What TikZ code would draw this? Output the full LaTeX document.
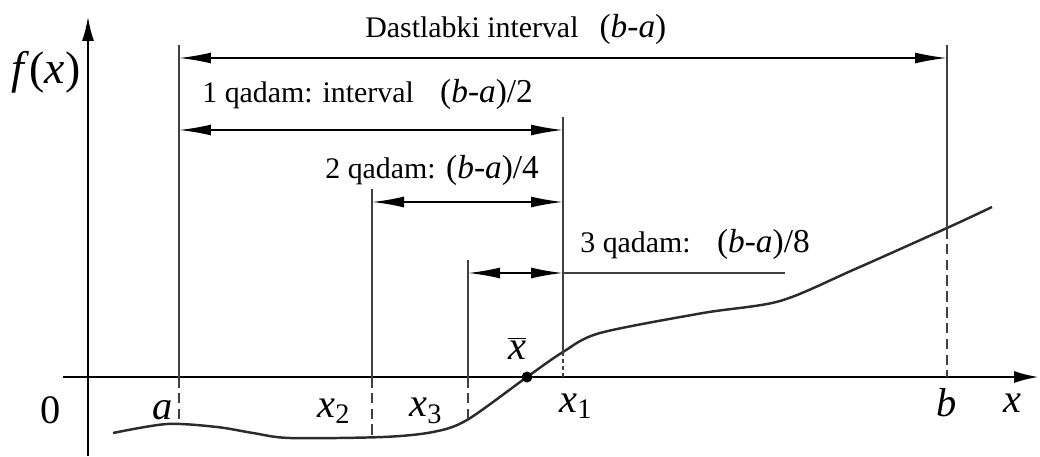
\documentclass[tikz,border=0pt]{standalone}
\usepackage{fontspec}
\setmainfont{LiberationSerif}[Extension=.ttf,UprightFont=*-Regular,ItalicFont=*-Italic,BoldFont=*-Bold]
\usetikzlibrary{arrows.meta,positioning,calc}
\newcommand{\bminusa}[1]{{\fontsize{19}{22}\selectfont(\textit{b}-\textit{a})#1}}
\newcommand{\lowix}[1]{\textsubscript{\upshape #1}}

\begin{document}
\begin{tikzpicture}[x=0.02cm,y=-0.02cm,>={Latex[length=6.4mm,width=2.2mm]}]
    \tikzset{
      axis/.style={line width=1.5pt,-{Latex[length=5mm,width=2.4mm]}},
      guide/.style={line width=1pt,draw=black!75},
      hidden/.style={guide,dash pattern=on 6pt off 3pt},
      span/.style={line width=1.1pt,<->},
      curve/.style={line width=1.4pt,draw=black!90!olive},
      lbl/.style={inner sep=0pt,anchor=base west,font=\fontsize{17}{20}\selectfont},
      var/.style={inner sep=0pt,font=\fontsize{23}{25}\selectfont\itshape},
      dot/.style={circle,fill,inner sep=0pt,minimum size=2.2mm}
    }
    \useasboundingbox (0,0) rectangle (1040,456);
    % axes
    \coordinate (xs) at (63,377);
    \coordinate (xe) at (1039,377);
    \coordinate (ys) at (88,456);
    \coordinate (ye) at (88,16);
    \draw[axis] (xs) -- (xe);
    \draw[axis] (ys) -- (ye);
    % the function
    \draw[curve] plot[smooth] coordinates {(113,433) (167,424) (217,427) (253,433)
      (290,438) (383,437) (433,432) (467,420) (527,377) (563,352) (600,333)
      (703,313) (780,301) (853,270) (947,228) (992,207)};
    % guide lines
    \coordinate (aT) at (179,45);   \coordinate (aD) at (179,420);
    \coordinate (bT) at (947,45);   \coordinate (bC) at (947,228);
    \coordinate (x1T) at (563,117); \coordinate (x1C) at (563,352);
    \coordinate (x2T) at (372,189); \coordinate (x2D) at (372,437);
    \coordinate (x3T) at (468,260); \coordinate (x3D) at (468,420);
    \draw[guide] (aT) -- (aT |- xs);
    \draw[hidden] (aT |- xs) -- (aD);
    \draw[guide] (bT) -- (bC);
    \draw[hidden] (bC) -- (bT |- xs);
    \draw[guide] (x1T) -- (x1C);
    \draw[hidden,dash pattern=on 2pt off 2pt] (x1C) -- (x1T |- xs);
    \draw[guide] (x2T) -- (x2T |- xs);
    \draw[hidden] (x2T |- xs) -- (x2D);
    \draw[guide] (x3T) -- (x3T |- xs);
    \draw[hidden] (x3T |- xs) -- (x3D);
    % interval arrows
    \coordinate (lv0) at (0,58);
    \coordinate (lv1) at (0,130);
    \coordinate (lv2) at (0,202);
    \coordinate (lv3) at (0,273);
    \coordinate (lv3e) at (785,273);
    \draw[span] (aT |- lv0) -- (bT |- lv0);
    \draw[span] (aT |- lv1) -- (x1T |- lv1);
    \draw[span] (x2T |- lv2) -- (x1T |- lv2);
    \draw[span] (x3T |- lv3) -- (x1T |- lv3);
    \draw[guide] (x1T |- lv3) -- (lv3e);
    \node[lbl] (title) at (365,38) {Dastlabki interval\hspace{12pt}\bminusa{}};
    \node[lbl] (step1) at (202,102) {1 qadam: interval\hspace{15pt}\bminusa{/2}};
    \node[lbl] (step2) at (325,178) {2 qadam:\hspace{6pt}\bminusa{/4}};
    \node[lbl] (step3) at (580,252) {3 qadam:\hspace{15pt}\bminusa{/8}};
    % axis labels
    \node[var,font=\fontsize{26}{28}\selectfont] (fx) at (46,72) {\textit{f}(\textit{x})};
    \node[var,font=\fontsize{23}{25}\selectfont] (zero) at (51,410) {0};
    \node[var] (la) at (163,410) {a};
    \node[var] (lx2) at (334,411) {x\lowix{2}};
    \node[var] (lx3) at (426,411) {x\lowix{3}};
    \node[var] (lx1) at (576,406) {x\lowix{1}};
    \node[var] (lb) at (947,403) {b};
    \node[var] (lx) at (1012,403) {x};
    \node[dot] (xb) at (527,377) {};
    \node[var] (lxb) at (517,348) {$\overline{\mbox{x}}$};
\end{tikzpicture}
\end{document}
